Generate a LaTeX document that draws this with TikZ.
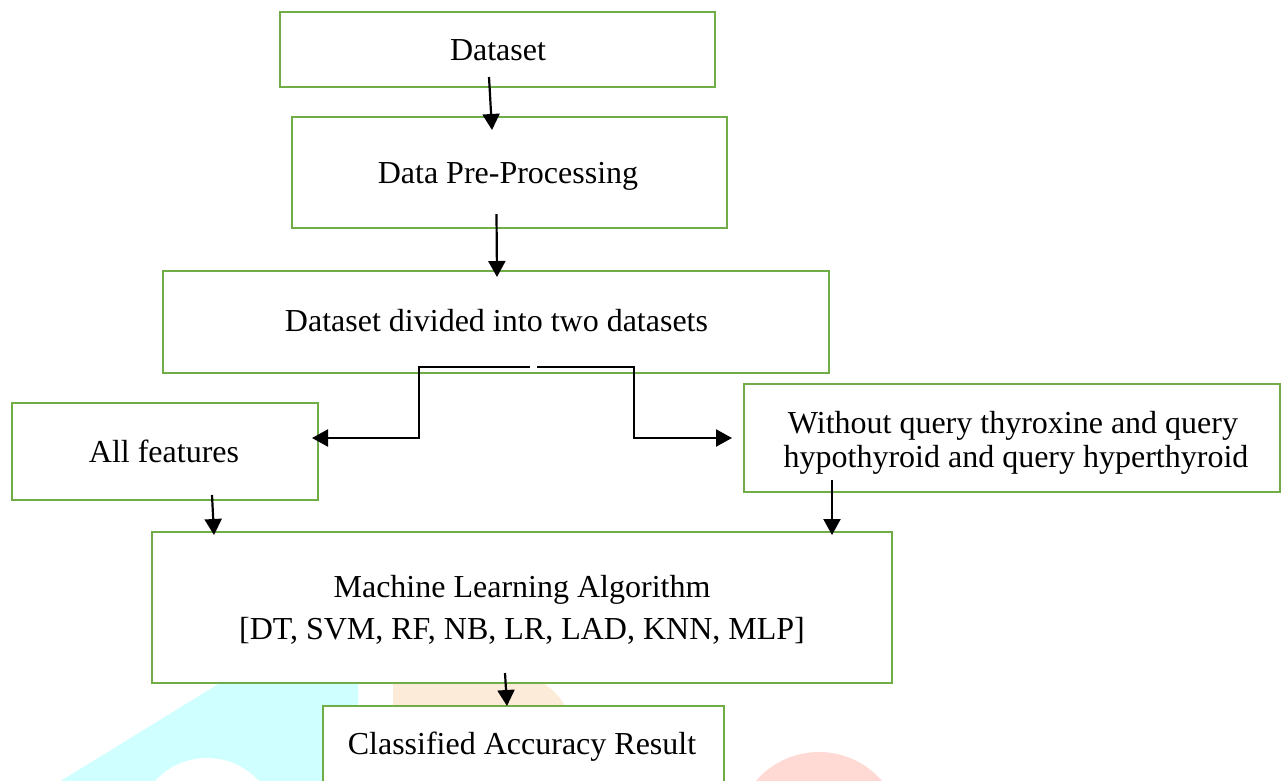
\documentclass[tikz,border=0pt]{standalone}
\usepackage{fontspec}
\setmainfont{Liberation Serif}
\usetikzlibrary{arrows.meta,calc}
\definecolor{boxgreen}{HTML}{70AD47}
\definecolor{wmcyan}{RGB}{208,255,255}
\definecolor{wmorange}{RGB}{253,235,218}
\definecolor{wmpink}{RGB}{255,217,212}
\begin{document}
\begin{tikzpicture}[x=1pt,y=-1pt,
  box/.style={draw=boxgreen, line width=2.8pt, fill=white, rectangle, inner sep=0pt, outer sep=0pt},
  txt/.style={anchor=base, inner sep=0pt, font=\fontsize{32}{36}\selectfont},
  arr/.style={draw=black, line width=2.2pt, -{Triangle[length=16pt,width=17pt]}}]
\useasboundingbox (0,0) rectangle (1282,780);
\clip (0,0) rectangle (1282,780);
\fill[white] (0,0) rectangle (1282,780);
% watermark
\fill[wmcyan] (220,683) -- (358,683) -- (358,790) -- (46,790) -- cycle;
\fill[white] (207,828) circle (70pt);
\fill[wmorange] (393,680) -- (538,680) .. controls (552,688) and (562,698) .. (568,712) -- (568,720) -- (393,720) -- cycle;
\fill[wmpink] (819,835) circle (83pt);
% boxes
\node[box, minimum width=435pt, minimum height=75pt] (ds) at (497.5,49.5) {};
\node[box, minimum width=435pt, minimum height=111pt] (pp) at (509.5,172.5) {};
\node[box, minimum width=666pt, minimum height=102pt] (dv) at (496,322) {};
\node[box, minimum width=306pt, minimum height=97pt] (af) at (165,451.5) {};
\node[box, minimum width=536pt, minimum height=108pt] (wo) at (1012,438) {};
\node[box, minimum width=740pt, minimum height=151pt] (ml) at (522,607.5) {};
\node[box, minimum width=401pt, minimum height=104pt] (cr) at (523.5,758) {};
% texts
\node[txt] (dst) at (498,60) {Dataset};
\node[txt] (ppt) at (508,183) {Data Pre-Processing};
\node[txt] (dvt) at (496.5,331) {Dataset divided into two datasets};
\node[txt] (aft) at (164,462) {All features};
\node[txt] (wot1) at (1013,433) {Without query thyroxine and query};
\node[txt] (wot2) at (1016,467) {hypothyroid and query hyperthyroid};
\node[txt] (mlt1) at (522,597) {Machine Learning Algorithm};
\node[txt] (mlt2) at (522,639) {[DT, SVM, RF, NB, LR, LAD, KNN, MLP]};
\node[txt] (crt) at (522,754) {Classified Accuracy Result};
% connectors
\draw[arr] ($(ds.south)+(-8.5,-10)$) -- ($(pp.north)+(-17.5,13)$);
\draw[arr] ($(pp.south)+(-13,-14)$) -- ($(dv.north)+(1,6)$);
\draw[arr] ($(dv.south)+(34,-6)$) -- ($(dv.south)+(-77,-6)$) |- ($(af.east)+(-6,-13.5)$);
\draw[arr] ($(dv.south)+(41,-6)$) -- ($(dv.south)+(138,-6)$) |- ($(wo.west)+(-12,0)$);
\draw[arr] ($(af.south)+(47,-5)$) -- ($(ml.north)+(-308,3)$);
\draw[arr] ($(wo.south)+(-180,-12)$) -- ($(ml.north)+(310,3)$);
\draw[arr] ($(ml.south)+(-17,-10)$) -- ($(cr.north)+(-16.5,0)$);
\end{tikzpicture}
\end{document}
